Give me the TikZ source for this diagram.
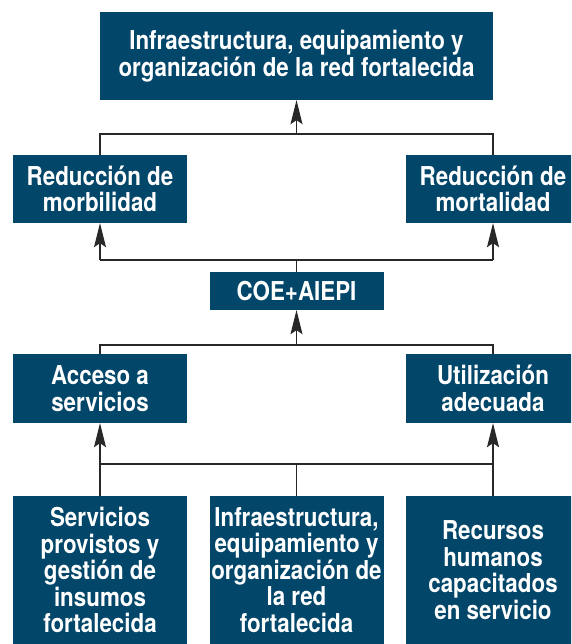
\documentclass[tikz,border=0pt]{standalone}
\usepackage{fontspec}
\setmainfont{TeX Gyre Heros}[FakeStretch=0.86]
\usetikzlibrary{arrows.meta}
\definecolor{boxblue}{RGB}{2,70,106}
\definecolor{linegray}{RGB}{40,40,40}
\tikzset{
  bluebox/.style={fill=boxblue, draw=none, text=white, align=center, inner sep=0pt,
    font=\bfseries\fontsize{26}{26.5}\selectfont},
  conn/.style={draw=linegray, line width=1.2pt},
  arr/.style={conn, -{Stealth[length=24pt, width=12pt, inset=4pt]}}
}
\begin{document}
\begin{tikzpicture}[x=1pt,y=-1pt]
\useasboundingbox (0,0) rectangle (571,644);
\clip (0,0) rectangle (571,644);
% nodes
\node[bluebox, minimum width=393pt, minimum height=88pt] (top) at (296.5,56) {Infraestructura, equipamiento y\\organización de la red fortalecida};
\node[bluebox, minimum width=174pt, minimum height=68pt] (redL) at (100,189) {Reducción de\\morbilidad};
\node[bluebox, minimum width=174pt, minimum height=68pt] (redR) at (493,189) {Reducción de\\mortalidad};
\node[bluebox, minimum width=174pt, minimum height=38pt] (coe) at (296.5,291) {COE+AIEPI};
\node[bluebox, minimum width=174pt, minimum height=69pt] (accL) at (100,388.5) {Acceso a\\servicios};
\node[bluebox, minimum width=174pt, minimum height=69pt] (accR) at (493,388.5) {Utilización\\adecuada};
\node[bluebox, minimum width=174pt, minimum height=148pt] (botL) at (100,570) {Servicios\\provistos y\\gestión de\\insumos\\fortalecida};
\node[bluebox, minimum width=174pt, minimum height=148pt] (botM) at (296.5,570) {Infraestructura,\\equipamiento y\\organización de\\la red\\fortalecida};
\node[bluebox, minimum width=174pt, minimum height=148pt] (botR) at (493,570) {Recursos\\humanos\\capacitados\\en servicio};
% junctions
\coordinate (j1) at (296.5,134);
\coordinate (j2) at (296.5,260);
\coordinate (j3) at (296.5,345);
\coordinate (j4) at (296.5,464);
% connectors
\draw[conn] (redL.north) -- (redL.north |- j1) -- (redR.north |- j1) -- (redR.north);
\draw[arr] (j1) -- (top.south);
\draw[conn] (redL.south |- j2) -- (redR.south |- j2);
\draw[arr] (redL.south |- j2) -- (redL.south);
\draw[arr] (redR.south |- j2) -- (redR.south);
\draw[conn] (coe.north) -- (j2);
\draw[arr] (j3) -- (coe.south);
\draw[conn] (accL.north) -- (accL.north |- j3) -- (accR.north |- j3) -- (accR.north);
\draw[conn] (botL.north |- j4) -- (botR.north |- j4);
\draw[arr] (botL.north) -- (accL.south);
\draw[arr] (botR.north) -- (accR.south);
\draw[conn] (botM.north) -- (j4);
\end{tikzpicture}
\end{document}
